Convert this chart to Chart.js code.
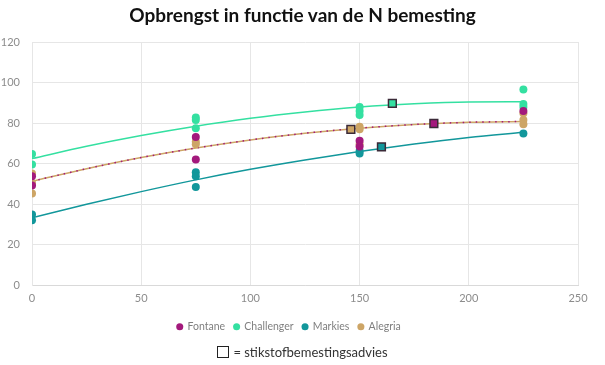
<!DOCTYPE html>
<html>
<head>
<meta charset="utf-8">
<script src="https://cdn.jsdelivr.net/npm/chart.js@4"></script>
<style>
  html, body { margin: 0; padding: 0; background: #fff; }
  #wrap { position: relative; width: 605px; height: 365px; }
  #title { position: absolute; left: 0; width: 605px; top: 3px; text-align: center;
           font: bold 19px Lato, "Open Sans", sans-serif; color: #111; }
  #note { position: absolute; left: 0; width: 605px; top: 344px; text-align: center;
          font: 13px Lato, "Open Sans", sans-serif; color: #333; }
  #note .box { display: inline-block; width: 10px; height: 10px; border: 1.5px solid #222;
               vertical-align: -1px; margin-right: 4px; }
</style>
</head>
<body>
<div id="wrap">
  <canvas id="chart" width="605" height="365"></canvas>
  <div id="title">Opbrengst in functie van de N bemesting</div>
  <div id="note"><span class="box"></span>= stikstofbemestingsadvies</div>
</div>
<script>
// N-dosis (kg N/ha) per meting
const fontaneX   = [0, 0, 75, 75, 150, 150, 225];
const fontaneY   = [53.8, 49.2, 73.2, 62.0, 71.3, 68.5, 86.0];
const challX     = [0, 0, 75, 75, 75, 150, 150, 150, 225, 225, 225];
const challY     = [64.7, 59.6, 82.8, 81.5, 77.4, 88.0, 86.0, 84.0, 96.6, 89.4, 88.0];
const markiesX   = [0, 0, 75, 75, 75, 150, 150, 225];
const markiesY   = [34.9, 32.1, 55.8, 53.8, 48.5, 66.2, 65.0, 74.9];
const alegriaX   = [0, 0, 0, 75, 75, 150, 150, 150, 225, 225, 225];
const alegriaY   = [55.1, 50.4, 45.3, 70.8, 69.6, 78.2, 77.0, 69.6, 84.8, 81.5, 79.4];

const trendX       = [0, 25, 50, 75, 100, 125, 150, 175, 200, 225];
const trendFontane = [51.3, 57.5, 63.0, 67.7, 71.7, 75.0, 77.5, 79.3, 80.4, 80.8];
const trendChall   = [62.5, 68.6, 73.9, 78.5, 82.4, 85.5, 87.9, 89.5, 90.4, 90.5];
const trendMarkies = [33.3, 40.0, 46.2, 52.0, 57.2, 61.8, 66.0, 69.7, 72.9, 75.5];
const trendAlegria = [51.3, 57.5, 63.0, 67.7, 71.7, 75.0, 77.5, 79.3, 80.4, 80.8];

// stikstofbemestingsadvies
const adviesNames = ['Fontane', 'Challenger', 'Markies', 'Alegria'];
const adviesX     = [184, 165, 160, 146];
const adviesY     = [79.8, 89.7, 68.3, 76.9];

const xTicks = [0, 50, 100, 150, 200, 250];
const yTicks = [0, 20, 40, 60, 80, 100, 120];

const COL = {
  Fontane:    '#a3197c',
  Challenger: '#34e0a1',
  Markies:    '#12979b',
  Alegria:    '#cda566'
};

const pts = (xs, ys) => xs.map((x, i) => ({ x, y: ys[i] }));

function scatterSet(label, xs, ys) {
  return {
    type: 'scatter', label, data: pts(xs, ys),
    backgroundColor: COL[label], borderColor: COL[label],
    pointRadius: 4, pointHoverRadius: 4, borderWidth: 0, order: 1
  };
}

function trendSet(label, ys, dash) {
  return {
    type: 'line', label: 'trend ' + label, data: pts(trendX, ys),
    borderColor: COL[label], borderWidth: 1.5, borderDash: dash || [],
    pointRadius: 0, fill: false, cubicInterpolationMode: 'monotone',
    order: label === 'Fontane' ? 2 : 3
  };
}

const adviesSets = adviesNames.map((n, i) => ({
  type: 'scatter', label: 'advies ' + n, data: [{ x: adviesX[i], y: adviesY[i] }],
  pointStyle: 'rect', pointRadius: 5.5, pointHoverRadius: 5.5,
  backgroundColor: COL[n], borderColor: '#3b2a38', borderWidth: 1.5, order: 0
}));

new Chart(document.getElementById('chart'), {
  type: 'scatter',
  data: {
    datasets: [
      scatterSet('Fontane', fontaneX, fontaneY),
      scatterSet('Challenger', challX, challY),
      scatterSet('Markies', markiesX, markiesY),
      scatterSet('Alegria', alegriaX, alegriaY),
      trendSet('Fontane', trendFontane, [1.5, 5]),
      trendSet('Challenger', trendChall),
      trendSet('Markies', trendMarkies),
      trendSet('Alegria', trendAlegria),
      ...adviesSets
    ]
  },
  options: {
    responsive: false,
    animation: false,
    layout: { padding: { left: 0, right: 27, top: 42, bottom: 23 } },
    plugins: {
      title: { display: false },
      legend: {
        position: 'bottom',
        labels: {
          filter: (item) => adviesNames.includes(item.text),
          usePointStyle: true, pointStyle: 'circle', boxWidth: 5, boxHeight: 5,
          color: '#7f7f7f', font: { family: 'Lato', size: 10.5 }, padding: 9
        }
      },
      tooltip: { enabled: false }
    },
    scales: {
      x: {
        type: 'linear', min: 0, max: 250,
        afterBuildTicks: ax => { ax.ticks = xTicks.map(v => ({ value: v })); },
        ticks: { color: '#8c8c8c', font: { family: 'Lato', size: 11 }, padding: 7 },
        grid: { color: '#e6e6e6', drawTicks: false },
        border: { color: '#d9d9d9' }
      },
      y: {
        type: 'linear', min: 0, max: 120,
        afterBuildTicks: ax => { ax.ticks = yTicks.map(v => ({ value: v })); },
        afterFit: ax => { ax.width = 32; },
        ticks: { color: '#8c8c8c', font: { family: 'Lato', size: 11 }, padding: 12 },
        grid: { color: '#e6e6e6', drawTicks: false },
        border: { color: '#e6e6e6' }
      }
    }
  }
});
</script>
</body>
</html>
